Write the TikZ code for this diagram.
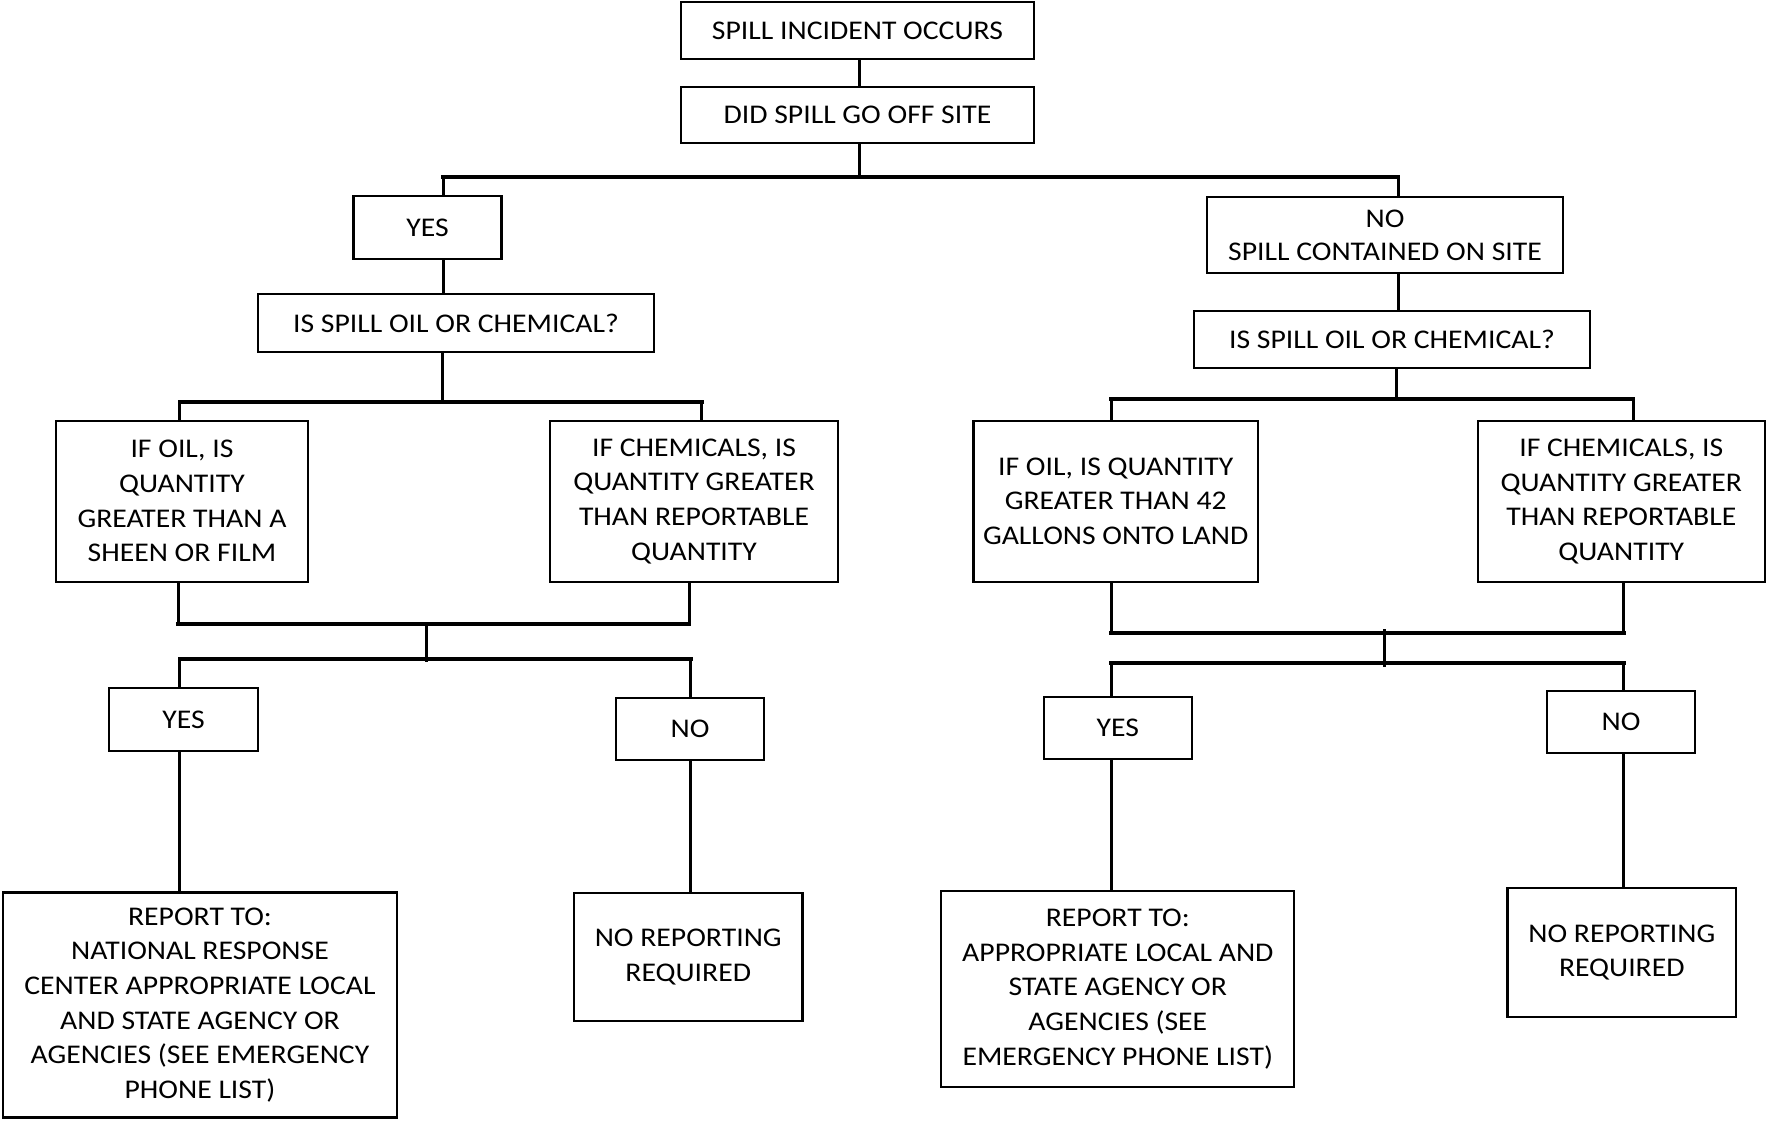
\documentclass[tikz,border=0pt]{standalone}
\usepackage{fontspec}
\setmainfont{Carlito}[FakeStretch=1.1]
\begin{document}
\begin{tikzpicture}[x=1pt,y=-1pt,
  box/.style={draw, line width=2.2pt, align=center, inner sep=0pt,
    font=\fontsize{27}{34.7}\selectfont},
  conn/.style={line width=3pt},
  bar/.style={line width=4pt, line cap=rect}]
\useasboundingbox[fill=white] (0,0) rectangle (1766,1120);
% boxes
\node[box, minimum width=353pt, minimum height=57pt] (incident) at (857.5,30.5) {SPILL INCIDENT OCCURS};
\node[box, minimum width=353pt, minimum height=56pt] (offsite) at (857.5,115) {DID SPILL GO OFF SITE};
\node[box, minimum width=148pt, minimum height=63pt] (yesA) at (427.5,227.5) {YES};
\node[box, minimum width=356pt, minimum height=75.5pt, font=\fontsize{27}{32.7}\selectfont] (noB) at (1385,235) {NO\\SPILL CONTAINED ON SITE};
\node[box, minimum width=396.4pt, minimum height=57.4pt] (isA) at (456,323) {IS SPILL OIL OR CHEMICAL?};
\node[box, minimum width=396pt, minimum height=57.3pt] (isB) at (1392,339.7) {IS SPILL OIL OR CHEMICAL?};
\node[box, minimum width=252.6pt, minimum height=161pt] (oilA) at (182,501.2) {IF OIL, IS\\QUANTITY\\GREATER THAN A\\SHEEN OR FILM};
\node[box, minimum width=288pt, minimum height=161pt] (chemA) at (694,501.2) {IF CHEMICALS, IS\\QUANTITY GREATER\\THAN REPORTABLE\\QUANTITY};
\node[box, minimum width=284.4pt, minimum height=161pt] (oilB) at (1115.7,501.2) {IF OIL, IS QUANTITY\\GREATER THAN 42\\GALLONS ONTO LAND};
\node[box, minimum width=287.2pt, minimum height=161.6pt] (chemB) at (1621.3,501.5) {IF CHEMICALS, IS\\QUANTITY GREATER\\THAN REPORTABLE\\QUANTITY};
\node[box, minimum width=149.3pt, minimum height=62.7pt] (yesA2) at (183.6,719.6) {YES};
\node[box, minimum width=148pt, minimum height=62.3pt] (noA2) at (690,728.8) {NO};
\node[box, minimum width=148.6pt, minimum height=62.6pt] (yesB2) at (1117.9,728) {YES};
\node[box, minimum width=148.6pt, minimum height=61.7pt] (noB2) at (1621,721.8) {NO};
\node[box, minimum width=394.3pt, minimum height=225pt] (repA) at (200,1005) {REPORT TO:\\NATIONAL RESPONSE\\CENTER APPROPRIATE LOCAL\\AND STATE AGENCY OR\\AGENCIES (SEE EMERGENCY\\PHONE LIST)};
\node[box, minimum width=228.5pt, minimum height=128.6pt] (norepA) at (688.2,957) {NO REPORTING\\REQUIRED};
\node[box, minimum width=352.9pt, minimum height=196.6pt] (repB) at (1117.8,989) {REPORT TO:\\APPROPRIATE LOCAL AND\\STATE AGENCY OR\\AGENCIES (SEE\\EMERGENCY PHONE LIST)};
\node[box, minimum width=228.7pt, minimum height=128.4pt] (norepB) at (1621.8,952.5) {NO REPORTING\\REQUIRED};
% junction coordinates
\coordinate (j0) at (859,176.7);
\coordinate (jA) at (443,176.7);
\coordinate (jB) at (1398,176.7);
\coordinate (k0) at (442,401.5);
\coordinate (kA) at (179.7,401.5);
\coordinate (kB) at (701.5,401.5);
\coordinate (m0) at (1396,399);
\coordinate (mA) at (1111,399);
\coordinate (mB) at (1633,399);
\coordinate (pA) at (178,624);
\coordinate (pB) at (689,624);
\coordinate (p0) at (426,624);
\coordinate (qA) at (179.7,659);
\coordinate (qB) at (690.6,659);
\coordinate (q0) at (426,661.7);
\coordinate (rA) at (1111,632.7);
\coordinate (rB) at (1623.5,632.7);
\coordinate (r0) at (1384.4,629.3);
\coordinate (sA) at (1111,663);
\coordinate (sB) at (1623.5,663);
\coordinate (s0) at (1384.4,667.3);
% connectors: top
\draw[conn] (incident.south -| j0) -- (offsite.north -| j0);
\draw[conn] (offsite.south -| j0) -- (j0);
\draw[bar] (jA) -- (jB);
\draw[conn] (jA) -- (yesA.north -| jA);
\draw[conn] (jB) -- (noB.north -| jB);
\draw[conn] (yesA.south -| jA) -- (isA.north -| jA);
\draw[conn] (noB.south -| jB) -- (isB.north -| jB);
% second level
\draw[conn] (isA.south -| k0) -- (k0);
\draw[bar] (kA) -- (kB);
\draw[conn] (kA) -- (oilA.north -| kA);
\draw[conn] (kB) -- (chemA.north -| kB);
\draw[conn] (isB.south -| m0) -- (m0);
\draw[bar] (mA) -- (mB);
\draw[conn] (mA) -- (oilB.north -| mA);
\draw[conn] (mB) -- (chemB.north -| mB);
% left lower brackets
\draw[conn] (oilA.south -| pA) -- (pA);
\draw[conn] (chemA.south -| pB) -- (pB);
\draw[bar] (pA) -- (pB);
\draw[conn] (p0) -- (q0);
\draw[bar] (qA) -- (qB);
\draw[conn] (qA) -- (yesA2.north -| qA);
\draw[conn] (qB) -- (noA2.north -| qB);
\draw[conn] (yesA2.south -| qA) -- (repA.north -| qA);
\draw[conn] (noA2.south -| qB) -- (norepA.north -| qB);
% right lower brackets
\draw[conn] (oilB.south -| rA) -- (rA);
\draw[conn] (chemB.south -| rB) -- (rB);
\draw[bar] (rA) -- (rB);
\draw[conn] (r0) -- (s0);
\draw[bar] (sA) -- (sB);
\draw[conn] (sA) -- (yesB2.north -| sA);
\draw[conn] (sB) -- (noB2.north -| sB);
\draw[conn] (yesB2.south -| sA) -- (repB.north -| sA);
\draw[conn] (noB2.south -| sB) -- (norepB.north -| sB);
\end{tikzpicture}
\end{document}
